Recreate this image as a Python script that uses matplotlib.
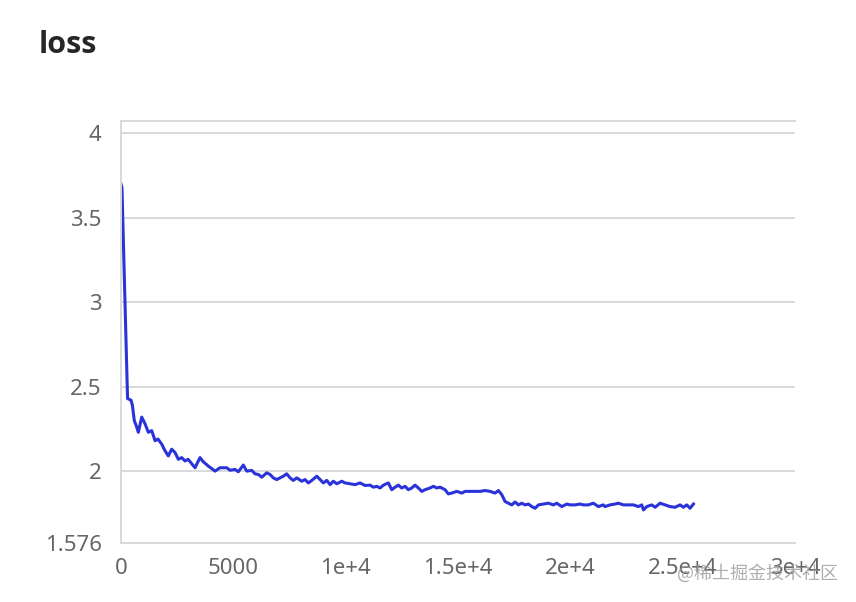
import matplotlib.pyplot as plt

steps = [0, 40, 290, 445, 505, 590, 700, 770, 920, 1070, 1215, 1365, 1515, 1645,
         1810, 1960, 2105, 2255, 2405, 2550, 2700, 2850, 2985, 3295, 3515, 3665,
         3885, 4185, 4405, 4705, 4855, 5075, 5220, 5445, 5595, 5820, 5965, 6115,
         6265, 6485, 6635, 6780, 6930, 7080, 7225, 7375, 7525, 7670, 7820, 8045,
         8190, 8340, 8490, 8715, 8860, 9005, 9160, 9305, 9450, 9605, 9825, 9975,
         10195, 10420, 10640, 10865, 11085, 11230, 11385, 11530, 11680, 11900,
         12050, 12200, 12345, 12495, 12645, 12790, 12940, 13090, 13235, 13385,
         13535, 13755, 13905, 14055, 14200, 14425, 14570, 14725, 14945, 15170,
         15315, 15535, 15760, 15985, 16205, 16430, 16650, 16800, 16950, 17095,
         17245, 17395, 17540, 17690, 17840, 17985, 18135, 18285, 18430, 18580,
         18800, 19025, 19245, 19395, 19620, 19845, 19990, 20210, 20435, 20580,
         20805, 21025, 21250, 21470, 21545, 21765, 21995, 22140, 22360, 22585,
         22810, 23030, 23180, 23255, 23405, 23625, 23775, 23995, 24220, 24440,
         24665, 24885, 25035, 25185, 25330, 25480]
loss = [3.70, 3.68, 2.43, 2.42, 2.39, 2.30, 2.26, 2.23, 2.32, 2.28, 2.23, 2.24, 2.18, 2.19,
        2.16, 2.12, 2.09, 2.13, 2.11, 2.07, 2.08, 2.06, 2.07, 2.02, 2.08, 2.055,
        2.03, 2.00, 2.02, 2.02, 2.005, 2.01, 1.996, 2.036, 2.00, 2.004, 1.984, 1.98,
        1.964, 1.99, 1.98, 1.96, 1.95, 1.96, 1.97, 1.984, 1.96, 1.945, 1.96, 1.94,
        1.95, 1.93, 1.945, 1.97, 1.95, 1.93, 1.945, 1.92, 1.94, 1.925, 1.94, 1.93,
        1.925, 1.92, 1.93, 1.915, 1.917, 1.905, 1.91, 1.90, 1.917, 1.93,
        1.89, 1.905, 1.917, 1.90, 1.91, 1.89, 1.90, 1.917, 1.90, 1.88,
        1.89, 1.90, 1.91, 1.90, 1.905, 1.89, 1.865, 1.87, 1.88, 1.87,
        1.88, 1.88, 1.88, 1.88, 1.885, 1.88, 1.87, 1.885, 1.86, 1.82,
        1.81, 1.80, 1.817, 1.80, 1.81, 1.80, 1.805, 1.79, 1.78, 1.80,
        1.805, 1.81, 1.80, 1.81, 1.79, 1.805, 1.80, 1.80, 1.805, 1.80,
        1.80, 1.81, 1.79, 1.80, 1.79, 1.80, 1.805, 1.81, 1.80, 1.80,
        1.80, 1.79, 1.80, 1.77, 1.79, 1.80, 1.786, 1.81, 1.80, 1.79,
        1.786, 1.80, 1.786, 1.80, 1.78, 1.805]

yticks = [1.576, 2, 2.5, 3, 3.5, 4]
ytick_labels = ['1.576', '2', '2.5', '3', '3.5', '4']
xticks = [0, 5000, 10000, 15000, 20000, 25000, 30000]
xtick_labels = ['0', '5000', '1e+4', '1.5e+4', '2e+4', '2.5e+4', '3e+4']

plt.rcParams['font.family'] = ['Noto Sans', 'DejaVu Sans']
grid_col = '#d9d9d9'

fig = plt.figure(figsize=(8.56, 6.02), dpi=100)
ax = fig.add_axes([0.1414, 0.0985, 0.7873, 0.7005])

ax.plot(steps, loss, color='#2a33d9', linewidth=2.2, solid_joinstyle='round')

ax.set_xlim(0, 30000)
ax.set_ylim(1.576, 4.074)
ax.set_yticks(yticks)
ax.set_yticklabels(ytick_labels)
ax.set_xticks(xticks)
ax.set_xticklabels(xtick_labels)
ax.tick_params(length=0, labelsize=16, labelcolor='#666666')
ax.tick_params(axis='y', pad=14)
ax.tick_params(axis='x', pad=11)
ax.yaxis.grid(True, color=grid_col, linewidth=1.4)
ax.set_axisbelow(True)

for side in ['left', 'bottom', 'top']:
    ax.spines[side].set_color(grid_col)
    ax.spines[side].set_linewidth(1.4)
ax.spines['right'].set_visible(False)

fig.text(39 / 856, 1 - 45 / 602, 'loss', fontsize=22, fontweight='bold',
         color='#262626', va='center', ha='left', family=['Open Sans', 'DejaVu Sans'])
fig.text(838 / 856, 1 - 573 / 602, '@稀土掘金技术社区', fontsize=13,
         color='#9a9a9a', alpha=0.8, ha='right', va='center',
         family=['Noto Sans CJK SC', 'DejaVu Sans'])

fig.savefig('out.png', dpi=100)
